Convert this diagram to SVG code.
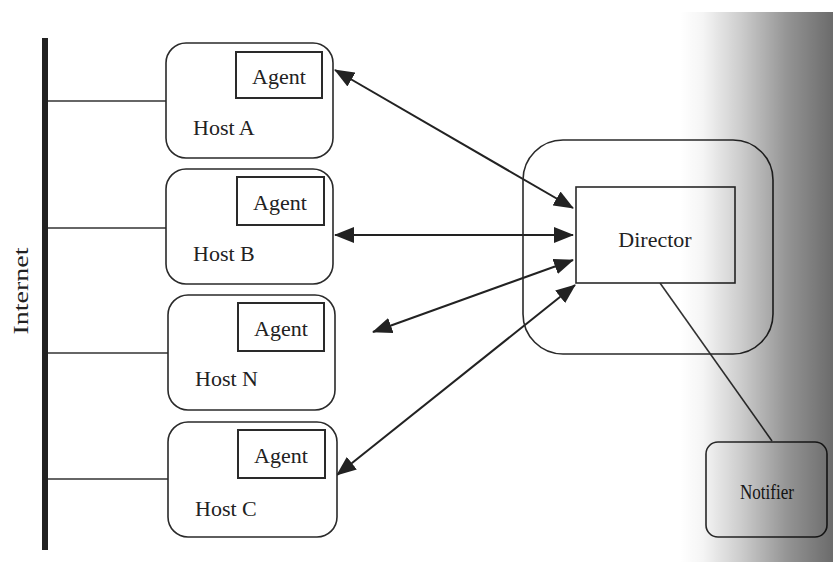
<svg xmlns="http://www.w3.org/2000/svg" width="833" height="569" viewBox="0 0 833 569">
  <style>
    .box { fill: #fff; stroke: #2a2a2a; stroke-width: 1.6; }
    .agent { fill: #fff; stroke: #2a2a2a; stroke-width: 2; }
    .lbl { font-family: "Liberation Serif", "Times New Roman", serif; font-size: 22px; fill: #222; }
    .wire { stroke: #333; stroke-width: 1.6; fill: none; }
    .arrow { stroke: #222; stroke-width: 2; fill: none; marker-start: url(#head); marker-end: url(#head); }
  </style>
  <defs>
    <marker id="head" viewBox="0 0 20 16" refX="19" refY="8" markerWidth="20" markerHeight="16" markerUnits="userSpaceOnUse" orient="auto-start-reverse">
      <path d="M0,0 L20,8 L0,16 Z" fill="#222"/>
    </marker>
    <linearGradient id="shade" x1="0" y1="0" x2="1" y2="0">
      <stop offset="0" stop-color="#000" stop-opacity="0"/>
      <stop offset="0.15" stop-color="#000" stop-opacity="0.04"/>
      <stop offset="0.4" stop-color="#000" stop-opacity="0.2"/>
      <stop offset="0.7" stop-color="#000" stop-opacity="0.42"/>
      <stop offset="1" stop-color="#000" stop-opacity="0.58"/>
    </linearGradient>
  </defs>

  <rect width="833" height="569" fill="#fff"/>

  <!-- Internet backbone -->
  <g id="internet">
    <line x1="45" y1="38" x2="45" y2="550" stroke="#222" stroke-width="6"/>
    <text class="lbl" font-size="27" transform="translate(28,291) rotate(-90)" text-anchor="middle" textLength="87" lengthAdjust="spacingAndGlyphs">Internet</text>
  </g>

  <!-- links and arrows -->
  <g id="connectors">
    <line class="wire" x1="48" y1="101" x2="166" y2="101"/>
    <line class="wire" x1="48" y1="228" x2="166" y2="228"/>
    <line class="wire" x1="48" y1="353" x2="168" y2="353"/>
    <line class="wire" x1="48" y1="479" x2="168" y2="479"/>
    <line class="arrow" x1="335" y1="70" x2="573" y2="208"/>
    <line class="arrow" x1="335" y1="235" x2="573" y2="235"/>
    <line class="arrow" x1="373" y1="332" x2="573" y2="260"/>
    <line class="arrow" x1="337" y1="475" x2="575" y2="285"/>
    <line class="wire" x1="660" y1="283" x2="772" y2="441"/>
  </g>

  <g id="host-a">
    <rect class="box" x="166" y="43" width="167" height="115" rx="20"/>
    <rect class="agent" x="236" y="52" width="86" height="46"/>
    <text class="lbl" x="279" y="84" text-anchor="middle">Agent</text>
    <text class="lbl" x="193" y="135">Host A</text>
  </g>

  <g id="host-b">
    <rect class="box" x="166" y="169" width="167" height="115" rx="20"/>
    <rect class="agent" x="237" y="177" width="87" height="48"/>
    <text class="lbl" x="280" y="210" text-anchor="middle">Agent</text>
    <text class="lbl" x="193" y="261">Host B</text>
  </g>

  <g id="host-n">
    <rect class="box" x="168" y="295" width="167" height="115" rx="20"/>
    <rect class="agent" x="238" y="303" width="86" height="48"/>
    <text class="lbl" x="281" y="336" text-anchor="middle">Agent</text>
    <text class="lbl" x="195" y="386">Host N</text>
  </g>

  <g id="host-c">
    <rect class="box" x="168" y="422" width="169" height="115" rx="20"/>
    <rect class="agent" x="238" y="430" width="87" height="48"/>
    <text class="lbl" x="281" y="463" text-anchor="middle">Agent</text>
    <text class="lbl" x="195" y="516">Host C</text>
  </g>

  <g id="director">
    <rect class="box" x="523" y="140" width="250" height="214" rx="40" style="fill:none"/>
    <rect class="box" x="576" y="187" width="159" height="96"/>
    <text class="lbl" x="655" y="247" text-anchor="middle" font-size="21">Director</text>
  </g>

  <g id="notifier">
    <rect class="box" x="706" y="442" width="121" height="95" rx="12"/>
    <text class="lbl" x="767" y="499" text-anchor="middle" font-size="18" textLength="54" lengthAdjust="spacingAndGlyphs">Notifier</text>
  </g>

  <!-- paper shading toward the right edge -->
  <rect x="680" y="12" width="153" height="550" fill="url(#shade)"/>
</svg>
